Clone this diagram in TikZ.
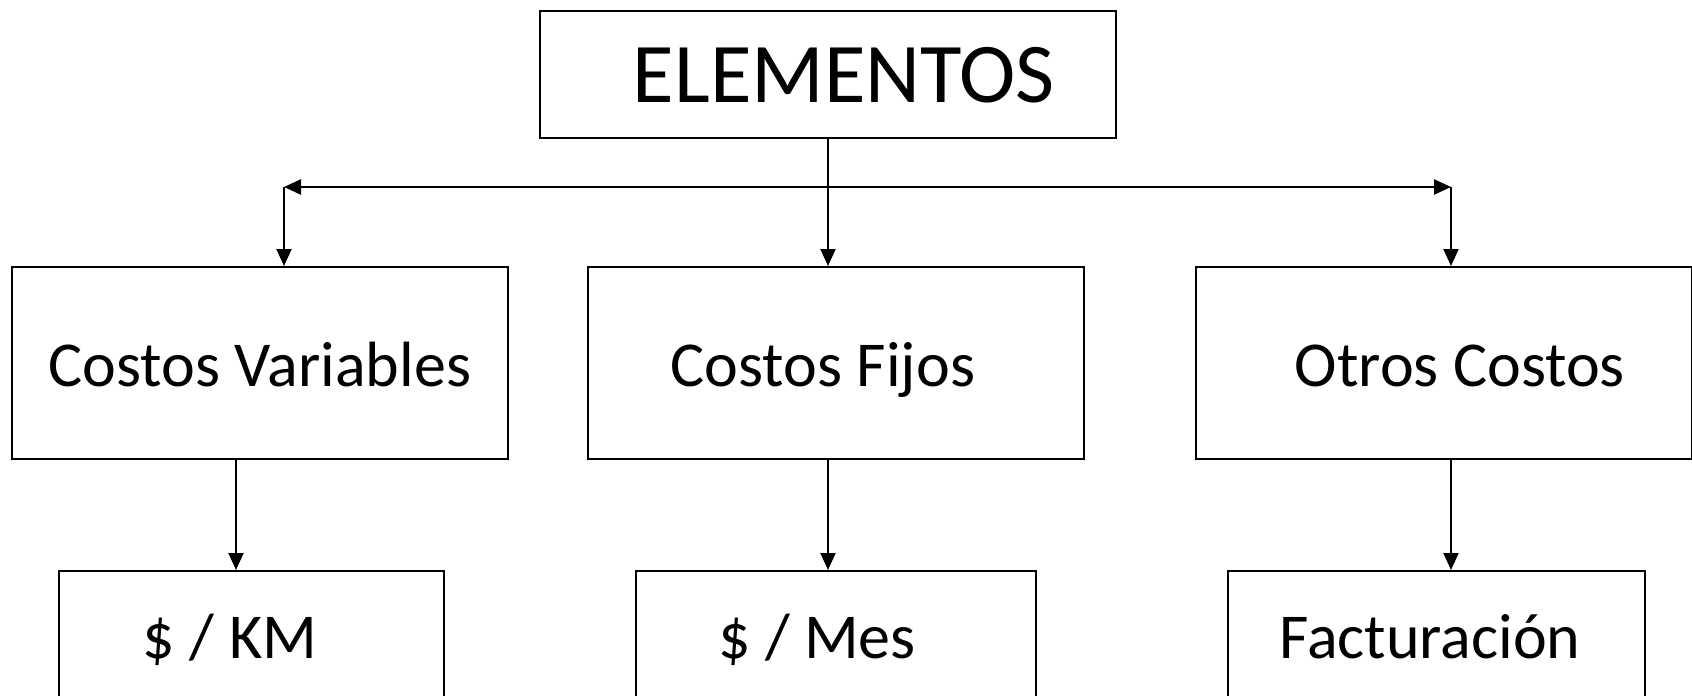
\documentclass[tikz,border=0pt]{standalone}
\usepackage{fontspec}
\setmainfont{Carlito}
\usetikzlibrary{arrows.meta,positioning}

\begin{document}
\begin{tikzpicture}[x=1pt,y=-1pt,
    caja/.style={draw,line width=2pt,inner sep=0pt,text height=50pt,text depth=4pt,font=\fontsize{64}{72}\selectfont},
    flecha/.style={-{Triangle[length=17pt,width=15pt]},line width=2pt}]
    \useasboundingbox (0,0) rectangle (1692,696);
    % Top box
    \node[caja,minimum width=576pt,minimum height=127pt,text height=62pt,text depth=6pt,font=\fontsize{85}{96}\selectfont] (elem) at (828,74.5) {\hspace{32pt}ELEMENTOS};
    % Middle row
    \node[caja,minimum width=496pt,minimum height=192pt] (cvar) at (260,363) {Costos Variables};
    \node[caja,minimum width=496pt,minimum height=192pt] (cfijos) at (835.5,363) {Costos Fijos\hspace{25pt}\mbox{}};
    \node[caja,minimum width=496pt,minimum height=192pt] (cotros) at (1444,363) {\hspace{32pt}Otros Costos};
    % Bottom row
    \node[caja,minimum width=385pt,minimum height=128pt] (km) at (251.5,635) {\$ / KM\hspace{43pt}\mbox{}};
    \node[caja,minimum width=400pt,minimum height=128pt] (mes) at (836,635) {\$ / Mes\hspace{38pt}\mbox{}};
    \node[caja,minimum width=417pt,minimum height=128pt] (fact) at (1436.5,635) {Facturación\hspace{13pt}\mbox{}};
    % Branch points
    \coordinate (hub) at (elem.south |- 0,187);
    \coordinate (izq) at (284,187);
    \coordinate (der) at (1451,187);
    % Connectors
    \draw[flecha] (elem.south) -- (elem.south |- cfijos.north);
    \draw[flecha,line width=2.5pt] (hub) -- (izq);
    \draw[flecha,line width=2.5pt] (hub) -- (der);
    \draw[flecha] (izq) -- (izq |- cvar.north);
    \draw[flecha] (der) -- (der |- cotros.north);
    \draw[flecha] ([xshift=-24pt]cvar.south) -- ([xshift=-24pt]cvar.south |- km.north);
    \draw[flecha] ([xshift=-7.5pt]cfijos.south) -- ([xshift=-7.5pt]cfijos.south |- mes.north);
    \draw[flecha] ([xshift=7pt]cotros.south) -- ([xshift=7pt]cotros.south |- fact.north);
\end{tikzpicture}
\end{document}
